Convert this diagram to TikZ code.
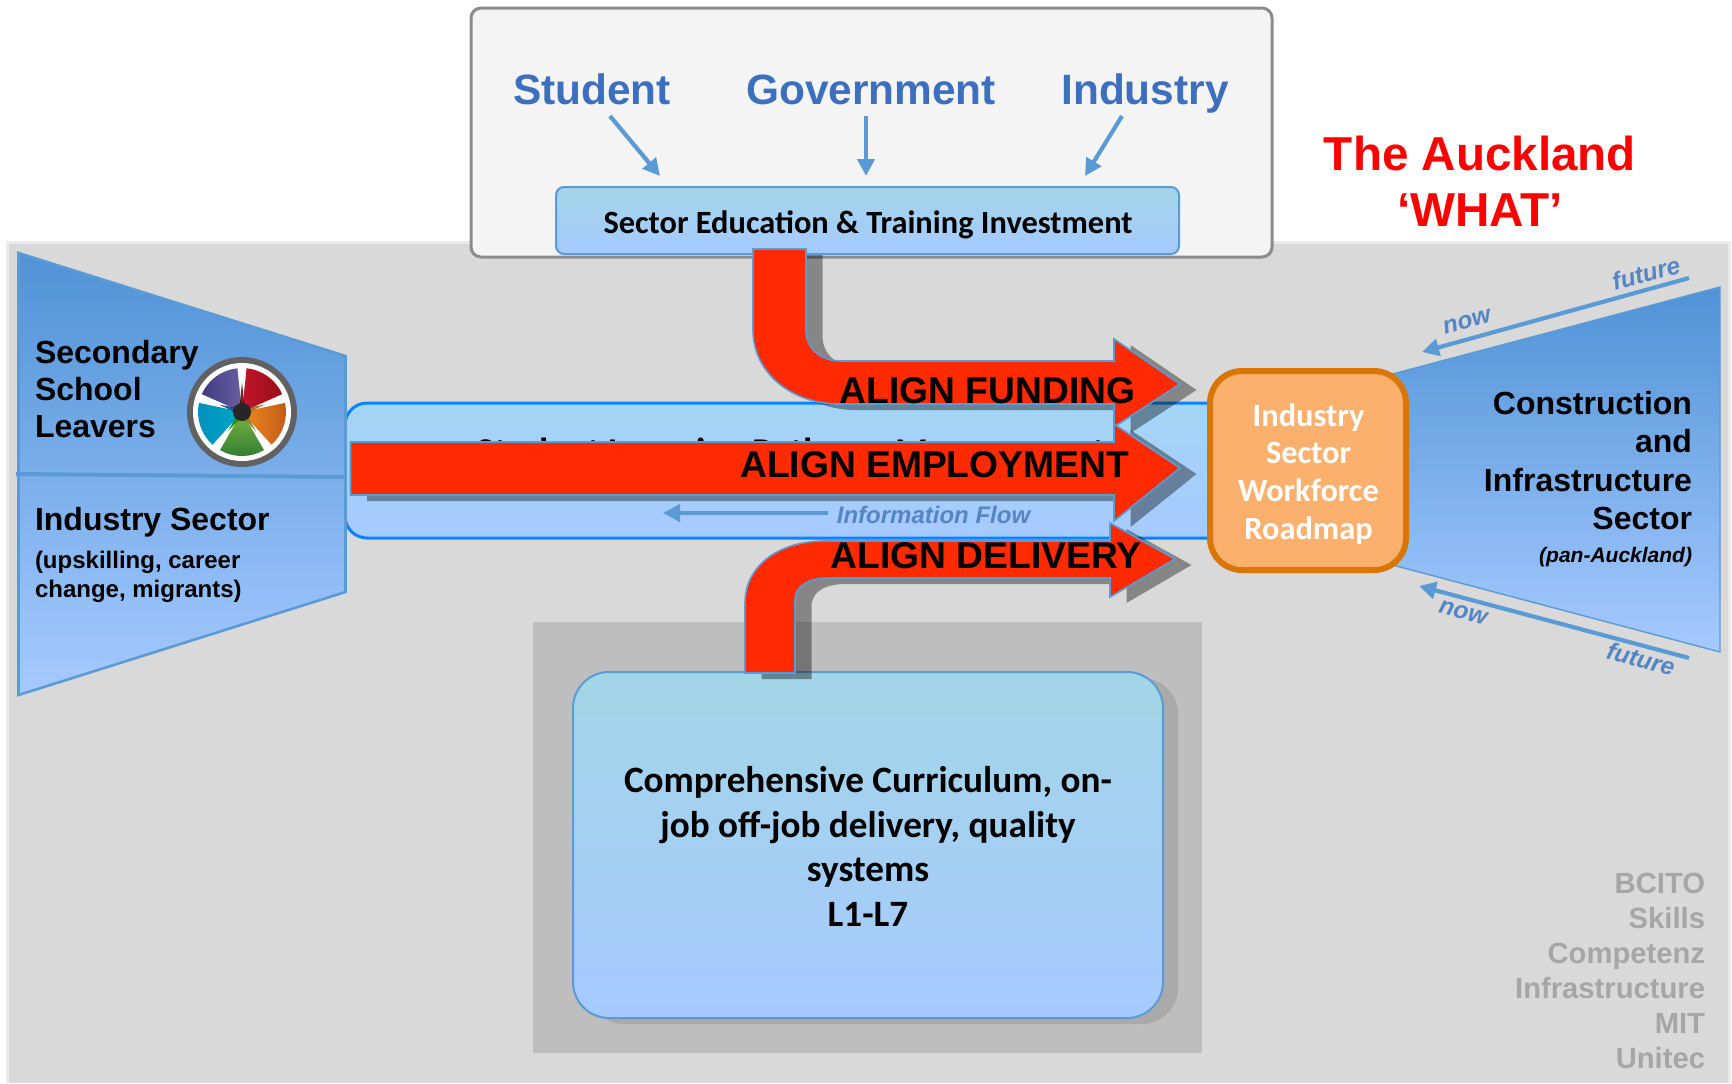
\documentclass[tikz,border=0pt]{standalone}
\usepackage{fontspec}
\setmainfont{Liberation Sans}
\newfontfamily\carlito{Carlito}
\usetikzlibrary{arrows.meta}
\definecolor{bgGray}{HTML}{D9D9D9}
\definecolor{bgEdge}{HTML}{EBEBEB}
\definecolor{backGray}{HTML}{BEBEBE}
\definecolor{panelFill}{HTML}{F4F4F4}
\definecolor{panelLine}{HTML}{8C8C8C}
\definecolor{edgeBlue}{HTML}{5B9BD5}
\definecolor{bandLine}{HTML}{0A84FA}
\definecolor{titleBlue}{HTML}{3D6FBF}
\definecolor{noteBlue}{HTML}{5585C5}
\definecolor{gradTopDark}{HTML}{4F92D6}
\definecolor{gradTopLight}{HTML}{A2D5E6}
\definecolor{gradBandTop}{HTML}{A3D5F5}
\definecolor{gradBottom}{HTML}{A6CAFF}
\definecolor{alignRed}{HTML}{FF2A00}
\definecolor{orangeFill}{HTML}{FBB06D}
\definecolor{orangeLine}{HTML}{D97706}
\definecolor{listGray}{HTML}{A6A6A6}
\definecolor{wPurpleA}{HTML}{3E3A85}
\definecolor{wPurpleB}{HTML}{6B5F9E}
\definecolor{wRedA}{HTML}{C0142A}
\definecolor{wRedB}{HTML}{9A0F18}
\definecolor{wOrangeA}{HTML}{EC8A1E}
\definecolor{wOrangeB}{HTML}{C25A18}
\definecolor{wGreenA}{HTML}{7DB442}
\definecolor{wGreenB}{HTML}{2E7D32}
\definecolor{wBlueA}{HTML}{0090BE}
\definecolor{wBlueB}{HTML}{00A6C4}
\newcommand{\fsz}[2]{\fontsize{#1}{#2}\selectfont}
\newcommand{\fundingPath}{(753,249)--(806,249)--(806,330) .. controls (806,348) and (820,361) .. (841,361)--(1114,361)--(1114,339)--(1180,384)--(1114,427)--(1114,404)--(841,404) .. controls (795,405) and (753,375) .. (753,330)--cycle}
\newcommand{\employPath}{(350.5,442)--(1114,442)--(1114,424)--(1180,468)--(1114,521)--(1114,495)--(350.5,495)--cycle}
\newcommand{\deliveryPath}{(745,673)--(745,603) .. controls (745,565) and (780,541) .. (824,541)--(1110,541)--(1110,523)--(1175,559)--(1110,597)--(1110,578)--(829,578) .. controls (810,578) and (795,585) .. (795,600)--(795,673)--cycle}
\tikzset{
  x=0.5pt,y=-0.5pt,
  txt/.style={inner sep=0pt,outer sep=0pt},
  stake/.style={txt,font=\bfseries\fsz{21.2}{25},text=titleBlue,anchor=base},
  flowline/.style={draw=edgeBlue,line width=2.1pt,-{Triangle[length=8.5pt,width=8.5pt]}},
  sidetext/.style={txt,font=\bfseries\fsz{16}{18.5},align=left},
  trapright/.style={txt,font=\bfseries\fsz{16}{19.2},align=right,anchor=east},
  tag/.style={txt,font=\bfseries\itshape\fsz{12.2}{15},text=noteBlue},
  softshadow/.style={fill=black,fill opacity=0.38,draw=none},
  bigarrow/.style={fill=alignRed,draw=edgeBlue,line width=0.8pt,line join=miter},
  alignlabel/.style={txt,font=\bfseries\fsz{18.6}{22}},
  lightbox/.style={top color=gradTopLight,bottom color=gradBottom,draw=edgeBlue,line width=1pt},
  cal/.style={txt,font=\carlito\bfseries,align=center},
}
\begin{document}
\begin{tikzpicture}
\useasboundingbox (0,0) rectangle (1732,1083);
% backgrounds
\fill[white] (0,0) rectangle (1732,1083);
\fill[bgEdge] (6,241) rectangle (1731,1083);
\fill[bgGray] (9,244) rectangle (1728,1083);
\fill[backGray] (532.5,622) rectangle (1202,1053);
% top panel
\draw[fill=panelFill,draw=panelLine,line width=1.5pt,rounded corners=5pt] (471,8) rectangle (1272,257);
\path[lightbox,rounded corners=4pt] (556,187) rectangle (1179,254);
\node[cal,font=\carlito\bfseries\fsz{16.2}{18}] (invest) at (868,224.5) {Sector Education \& Training Investment};
\node[stake] (student) at (592,104) {Student};
\node[stake] (gov) at (871,104) {Government};
\node[stake] (industry) at (1145,104) {Industry};
\coordinate (sA) at (610,116); \coordinate (sB) at (660,176);
\coordinate (gA) at (866,116); \coordinate (gB) at (866,176);
\coordinate (iA) at (1122,116); \coordinate (iB) at (1085,176);
\draw[flowline] (sA) -- (sB);
\draw[flowline] (gA) -- (gB);
\draw[flowline] (iA) -- (iB);
% title
\node[txt,font=\bfseries\fsz{23.8}{28},text=red,align=center] (title) at (1480,181) {The Auckland\\‘WHAT’};
% curriculum box
\fill[black,opacity=0.1,rounded corners=18pt] (588,678) rectangle (1178,1024);
\path[lightbox,rounded corners=18pt] (573,672) rectangle (1163,1018);
\node[cal,font=\carlito\bfseries\fsz{18.6}{22.2}] (curric) at (868,846.5) {Comprehensive Curriculum, on-\\job off-job delivery, quality\\systems\\L1-L7};
% band
\path[top color=gradBandTop,bottom color=gradBottom,draw=bandLine,line width=1.5pt,rounded corners=11pt] (345,403) rectangle (1260,538);
\node[txt,font=\carlito\bfseries\fsz{18.9}{22}] (pathway) at (791,454) {Student Learning Pathway Management};
% left funnel
\path[top color=gradTopDark,bottom color=gradBottom,draw=edgeBlue,line width=1.3pt] (18.5,253)--(345.5,356)--(345.5,592)--(18.5,695)--cycle;
\coordinate (dL) at (16,474); \coordinate (dR) at (346,477);
\draw[edgeBlue,line width=2pt] (dL) -- (dR);
\node[sidetext,anchor=west] (leavers) at (35,389) {Secondary\\School\\Leavers};
\node[txt,font=\bfseries\fsz{16}{19},anchor=west] (sector) at (35,522) {Industry Sector};
\node[txt,font=\bfseries\fsz{12}{14.8},align=left,anchor=west] (upskill) at (35,577) {(upskilling, career\\change, migrants)};
% logo
\begin{scope}[shift={(242,412)},x=0.5pt,y=0.5pt]
  \fill[black!62] (0,0) circle (55);
  \fill[white] (0,0) circle (49);
  \shade[left color=wPurpleA,right color=wPurpleB] (0,0)--(96:44) arc (96:156:44)--cycle;
  \shade[left color=wRedA,right color=wRedB] (0,0)--(24:44) arc (24:84:44)--cycle;
  \shade[left color=wOrangeA,right color=wOrangeB] (0,0)--(-48:44) arc (-48:12:44)--cycle;
  \shade[top color=wGreenA,bottom color=wGreenB] (0,0)--(-120:44) arc (-120:-60:44)--cycle;
  \shade[left color=wBlueA,right color=wBlueB] (0,0)--(168:44) arc (168:228:44)--cycle;
  \fill[red!35!black,opacity=.85] (60:5)--(90:30)--(120:5)--cycle;
  \fill[orange!55!black,opacity=.75] (-12:5)--(18:24)--(48:5)--cycle;
  \fill[olive!80!black,opacity=.85] (-84:5)--(-54:24)--(-24:5)--cycle;
  \fill[green!50!black,opacity=.85] (-156:5)--(-126:24)--(-96:5)--cycle;
  \fill[blue!50!cyan!45!black,opacity=.85] (132:5)--(162:24)--(192:5)--cycle;
  \fill[black!85] (0,0) circle (9);
\end{scope}
% right funnel
\path[top color=gradTopDark,bottom color=gradBottom,draw=edgeBlue,line width=0.7pt] (1385,376)--(1720,287)--(1720,652)--(1385,563)--cycle;
\node[trapright] (constr) at (1692,460.5) {Construction\\and\\Infrastructure\\Sector};
\node[txt,font=\bfseries\itshape\fsz{10.5}{12},anchor=east] (pan) at (1692,557) {(pan-Auckland)};
\coordinate (ftA) at (1689,278); \coordinate (ftB) at (1422,352);
\coordinate (fbA) at (1689,658); \coordinate (fbB) at (1419,586);
\draw[flowline] (ftA) -- (ftB);
\draw[flowline] (fbA) -- (fbB);
\node[tag,rotate=15] (fut1) at (1646,273) {future};
\node[tag,rotate=15] (now1) at (1467,322) {now};
\node[tag,rotate=-15] (now2) at (1463,613) {now};
\node[tag,rotate=-15] (fut2) at (1641,659) {future};
% info flow
\node[txt,font=\bfseries\itshape\fsz{12}{15},text=noteBlue] (info) at (933.5,515) {Information Flow};
\coordinate (infoEnd) at (663,513);
\draw[flowline] (info.west |- infoEnd) ++(-9,0) -- (infoEnd);
% align arrows
\fill[softshadow,shift={(16.5,6)}] \fundingPath;
\path[bigarrow] \fundingPath;
\fill[softshadow,shift={(16.5,6)}] \employPath;
\path[bigarrow] \employPath;
\fill[softshadow,shift={(16.5,6)}] \deliveryPath;
\path[bigarrow] \deliveryPath;
\node[alignlabel] (alF) at (987.5,391) {ALIGN FUNDING};
\node[alignlabel] (alE) at (934.5,465) {ALIGN EMPLOYMENT};
\node[alignlabel] (alD) at (986,556) {ALIGN DELIVERY};
% roadmap
\draw[fill=orangeFill,draw=orangeLine,line width=3pt,rounded corners=16pt] (1210,371) rectangle (1406,570);
\node[cal,font=\carlito\bfseries\fsz{16.2}{18.9},text=white] (road) at (1308.5,474) {Industry\\Sector\\Workforce\\Roadmap};
% provider list
\node[txt,font=\bfseries\fsz{14.6}{17.5},text=listGray,align=right,anchor=east] (list) at (1705,971) {BCITO\\Skills\\Competenz\\Infrastructure\\MIT\\Unitec};
\end{tikzpicture}
\end{document}
